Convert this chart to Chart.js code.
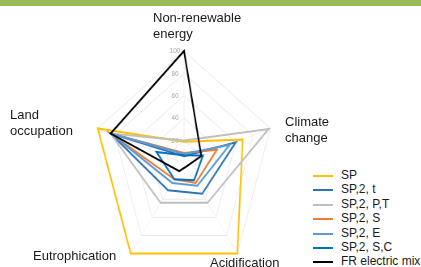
<!DOCTYPE html>
<html>
<head>
<meta charset="utf-8">
<script src="https://cdn.jsdelivr.net/npm/chart.js@4/dist/chart.umd.min.js"></script>
<style>
  body { margin: 0; width: 421px; height: 267px; overflow: hidden; background: #fff;
         font-family: "Liberation Sans", Arial, sans-serif; color: #1a1a1a; position: relative; }
  #topbar { position: absolute; left: 0; top: 0; width: 421px; height: 6px; background: #9bbb59; }
  #radar { position: absolute; left: 58px; top: 34px; width: 252px; height: 258px;
           transform: scaleX(0.81); transform-origin: 126px 0; }
  .axis { position: absolute; font-size: 13px; line-height: 16px; white-space: nowrap; }
  #legend { position: absolute; left: 313px; top: 168px; font-size: 12px; }
  .row { height: 14.4px; line-height: 14.4px; white-space: nowrap; position: relative; }
  .sw { position: absolute; left: 0; top: 7px; width: 20px; height: 2px; }
  .lt { position: absolute; left: 28px; top: 0; }
</style>
</head>
<body>
<div id="topbar"></div>
<canvas id="radar" width="252" height="258"></canvas>
<div id="axisLabels"></div>
<div id="legend"></div>
<script>
// radar axes, clockwise from the top
const categories = ['Non-renewable energy', 'Climate change', 'Acidification', 'Eutrophication', 'Land occupation'];
const tickValues = [0, 20, 40, 60, 80, 100];

const seriesNames = ['SP', 'SP,2, t', 'SP,2, P,T', 'SP,2, S', 'SP,2, E', 'SP,2, S,C', 'FR electric mix'];
const seriesColors = ['#ffc000', '#2e75b6', '#bfbfbf', '#ed7d31', '#5b9bd5', '#0070c0', '#000000'];

const sp = [19, 68, 100, 100, 100];
const sp2t = [6, 60, 34, 30, 85];
const sp2pt = [20, 98, 44, 44, 85];
const sp2s = [9, 38, 22, 18, 85];
const sp2e = [8, 53, 25, 22, 85];
const sp2sc = [7, 22, 19, 18, 32];
const frMix = [100, 20, 4, 9, 85];
const seriesValues = [sp, sp2t, sp2pt, sp2s, sp2e, sp2sc, frMix];

// axis names sit outside the (horizontally squeezed) radar
const labelSpots = [
  { left: 153, top: 10, lines: ['Non-renewable', 'energy'] },
  { left: 285, top: 114, lines: ['Climate', 'change'] },
  { left: 210, top: 255, lines: ['Acidification'] },
  { left: 33, top: 248, lines: ['Eutrophication'] },
  { left: 10, top: 107, lines: ['Land', 'occupation'] }
];
const axisBox = document.getElementById('axisLabels');
labelSpots.forEach((s, i) => {
  const d = document.createElement('div');
  d.className = 'axis';
  d.style.left = s.left + 'px';
  d.style.top = s.top + 'px';
  d.title = categories[i];
  d.innerHTML = s.lines.join('<br>');
  axisBox.appendChild(d);
});

const legendBox = document.getElementById('legend');
seriesNames.forEach((name, i) => {
  const r = document.createElement('div');
  r.className = 'row';
  r.innerHTML = '<span class="sw" style="background:' + seriesColors[i] + '"></span><span class="lt">' + name + '</span>';
  legendBox.appendChild(r);
});

const datasets = seriesNames.map((name, i) => ({
  label: name,
  data: seriesValues[i],
  borderColor: seriesColors[i],
  backgroundColor: 'transparent',
  borderWidth: 2,
  pointRadius: 0,
  fill: false,
  order: seriesNames.length - i
}));

new Chart(document.getElementById('radar'), {
  type: 'radar',
  data: { labels: categories, datasets: datasets },
  options: {
    responsive: false,
    animation: false,
    layout: { padding: 8 },
    plugins: { legend: { display: false }, tooltip: { enabled: false } },
    scales: {
      r: {
        min: 0,
        max: 100,
        beginAtZero: true,
        angleLines: { color: '#f0f0f0' },
        grid: { color: '#e8e8e8' },
        pointLabels: { display: false },
        ticks: {
          stepSize: 20,
          showLabelBackdrop: false,
          color: '#a6a6a6',
          font: { size: 8, family: 'Liberation Sans' },
          callback: (v) => tickValues.includes(v) ? v + '          ' : ''
        }
      }
    }
  }
});
</script>
</body>
</html>
